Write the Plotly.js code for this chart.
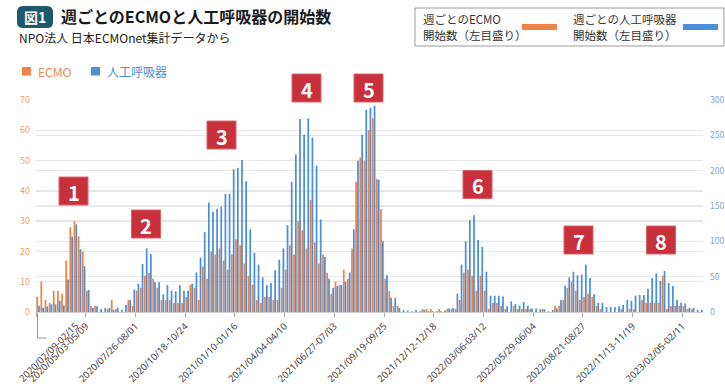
<!DOCTYPE html>
<html><head><meta charset="utf-8">
<script src="https://cdn.plot.ly/plotly-3.0.1.min.js"></script>
<style>html,body{margin:0;padding:0;background:#fff}#chart{width:725px;height:389px}</style>
</head><body><div id="chart"></div>
<script>
// Weekly counts (weeks starting 2020/02/09)
const ecmo = [
5,10,4,3,7,7,6,17,28,30,
25,20,7,2,2,0,0,1,4,1,
0,0,4,2,7,8,12,13,11,8,
4,4,4,3,3,3,5,9,8,4,
15,11,20,19,21,17,14,19,24,22,
16,12,9,4,3,5,5,4,4,8,
14,22,19,30,27,21,37,23,16,19,
13,6,10,9,14,11,21,43,51,50,
60,64,44,34,11,7,2,2,0,0,
0,0,0,1,1,1,0,1,0,1,
1,1,4,13,14,12,7,12,7,1,
3,3,2,1,0,2,1,1,1,1,
0,0,1,0,0,2,2,4,8,10,
7,4,5,6,5,2,1,0,0,0,
0,1,0,1,1,0,4,3,3,3,
3,12,1,2,2,2,2,1,1,0,
0
];
const vent = [
9,6,8,11,11,16,9,46,107,124,
89,65,31,6,8,4,6,6,3,6,
3,10,17,32,40,68,90,82,42,42,
25,38,30,29,38,30,30,40,56,77,
113,155,142,146,149,167,167,202,204,215,
185,117,84,67,49,38,41,59,74,90,
123,184,223,273,251,274,247,207,131,78,
47,34,37,38,43,56,117,214,251,286,
289,292,187,100,52,20,20,6,3,2,
1,3,1,3,1,1,1,1,2,5,
6,26,67,100,130,137,102,92,57,23,
23,23,22,8,15,11,9,14,9,5,
5,4,4,1,3,5,17,37,49,57,
52,53,67,48,25,13,13,7,7,7,
8,10,17,16,23,24,24,33,48,55,
44,58,41,37,17,13,12,6,6,3,
3
];
const weeks = ecmo.map((_, i) => i);
const tickWeeks = [0,12,24,36,48,60,72,84,96,108,120,132,144,156];
const tickLabels = [
"2020/02/09-02/15","2020/05/03-05/09","2020/07/26-08/01","2020/10/18-10/24",
"2021/01/10-01/16","2021/04/04-04/10","2021/06/27-07/03","2021/09/19-09/25",
"2021/12/12-12/18","2022/03/06-03/12","2022/05/29-06/04","2022/08/21-08/27",
"2022/11/13-11/19","2023/02/05-02/11"
];
const waveLabels = ["1","2","3","4","5","6","7","8"];

const ORANGE = '#ef8244', BLUE = '#4a8fd8';
const FONT = '"Noto Sans CJK JP", "Noto Sans", sans-serif';
const TICKFONT = '"Noto Sans", "Noto Sans CJK JP", sans-serif';
const L = 36, R = 22, T = 100, B = 77, W = 725, H = 389;
const PW = W - L - R, PH = H - T - B;
const P = x => (x - L) / PW;
const Q = y => (H - B - y) / PH;

const traces = [
  {type:'bar', x: weeks, y: ecmo, yaxis:'y', width:0.42, offset:-0.43,
   marker:{color:ORANGE}, name:'ECMO', hoverinfo:'skip'},
  {type:'bar', x: weeks, y: vent, yaxis:'y2', width:0.42, offset:0.01,
   marker:{color:BLUE}, name:'人工呼吸器', hoverinfo:'skip'}
];

const shapes = [];
const ann = [];
function txt(x, y, text, size, color, opts) {
  ann.push(Object.assign({xref:'paper', yref:'paper', x:P(x), y:Q(y), text:text,
    showarrow:false, xanchor:'left', yanchor:'middle',
    font:{family:FONT, size:size, color:color}}, opts || {}));
}
function rect(x0, y0, x1, y1, fill, line) {
  shapes.push({type:'rect', xref:'paper', yref:'paper', x0:P(x0), x1:P(x1), y0:Q(y1), y1:Q(y0),
    fillcolor:fill, line: line || {width:0}, layer:'above'});
}
// badge (rounded)
(function(){
  const x0=17,x1=53,y0=6,y1=28,r=6;
  const p = (x,y)=>P(x)+','+Q(y);
  shapes.push({type:'path', xref:'paper', yref:'paper', fillcolor:'#1c5a6b', line:{width:0},
    path:'M'+p(x0+r,y0)+' L'+p(x1-r,y0)+' Q'+p(x1,y0)+' '+p(x1,y0+r)+' L'+p(x1,y1-r)+' Q'+p(x1,y1)+' '+p(x1-r,y1)+
         ' L'+p(x0+r,y1)+' Q'+p(x0,y1)+' '+p(x0,y1-r)+' L'+p(x0,y0+r)+' Q'+p(x0,y0)+' '+p(x0+r,y0)+' Z'});
})();
txt(35, 17, '<b>図1</b>', 14, '#ffffff', {xanchor:'center'});
txt(59, 16, '<b>週ごとのECMOと人工呼吸器の開始数</b>', 16, '#1a1a1a');
txt(17, 38, 'NPO法人 日本ECMOnet集計データから', 12, '#222');
// small legend
rect(22, 67, 31, 75.5, ORANGE);
txt(36, 71.5, 'ECMO', 12, '#ee8a55');
rect(91, 67, 100, 75.5, BLUE);
txt(105, 71.5, '人工呼吸器', 12, '#4a8fd8');
// boxed legend
rect(415, 8, 724, 46, 'rgba(0,0,0,0)', {color:'#9a9a9a', width:1});
txt(421, 19, '週ごとのECMO', 11.5, '#333');
txt(421, 35, '開始数（左目盛り）', 11.5, '#333');
rect(522, 24, 557, 30, ORANGE);
txt(571, 19, '週ごとの人工呼吸器', 11.5, '#333');
txt(571, 35, '開始数（左目盛り）', 11.5, '#333');
rect(683, 24, 718, 30, BLUE);
// wave number boxes
const boxCenters = [[73.5,191],[146,224],[221.5,135],[306.5,88],[368.5,88],[477.5,184.5],[578.5,240],[661,240]];
waveLabels.forEach((lab, i) => {
  const [cx, cy] = boxCenters[i];
  rect(cx-14.5, cy-14, cx+14.5, cy+14, '#c8303c', {color:'#d9626a', width:1});
  txt(cx, cy+1, '<b>'+lab+'</b>', 20, '#ffffff', {xanchor:'center'});
});
// first tick label with leader line
shapes.push({type:'path', xref:'paper', yref:'paper', line:{color:'#9a9a9a', width:1},
  path:'M'+P(37.5)+','+Q(313)+' L'+P(37.5)+','+Q(338)+' L'+P(47)+','+Q(338)});
ann.push({xref:'paper', yref:'paper', x:P(48), y:Q(352), text:tickLabels[0], textangle:-45,
  showarrow:false, xanchor:'center', yanchor:'middle', font:{family:TICKFONT, size:9.5, color:'#444'}});

const layout = {
  width:W, height:H, margin:{l:L, r:R, t:T, b:B, pad:0},
  paper_bgcolor:'#fff', plot_bgcolor:'#fff', showlegend:false, barmode:'overlay',
  font:{family:FONT},
  xaxis:{range:[-0.5, 160.5], tickmode:'array', tickvals: tickWeeks.map(w => w - 0.5),
    ticktext: tickLabels.map((t, i) => i === 0 ? '' : t), tickangle:-45,
    ticks:'outside', ticklen:4, tickcolor:'#aaa', showgrid:false, zeroline:false,
    showline:true, linecolor:'#d0d0d0', linewidth:1,
    tickfont:{family:TICKFONT, size:9.5, color:'#444'}},
  yaxis:{range:[0,70], dtick:10, showgrid:true, gridcolor:'#e7e7e7', gridwidth:1.5,
    zeroline:false, ticks:'', ticklabelstandoff:5,
    tickfont:{family:FONT, size:9, color:'#f2a06c'}},
  yaxis2:{range:[0,300], dtick:50, overlaying:'y', side:'right', showgrid:true,
    gridcolor:'#e7e7e7', gridwidth:1.5, zeroline:false, ticks:'', ticklabelstandoff:6,
    tickfont:{family:FONT, size:8.5, color:'#78a8e2'}},
  shapes: shapes, annotations: ann
};
Plotly.newPlot('chart', traces, layout, {displayModeBar:false, staticPlot:true});
</script></body></html>
